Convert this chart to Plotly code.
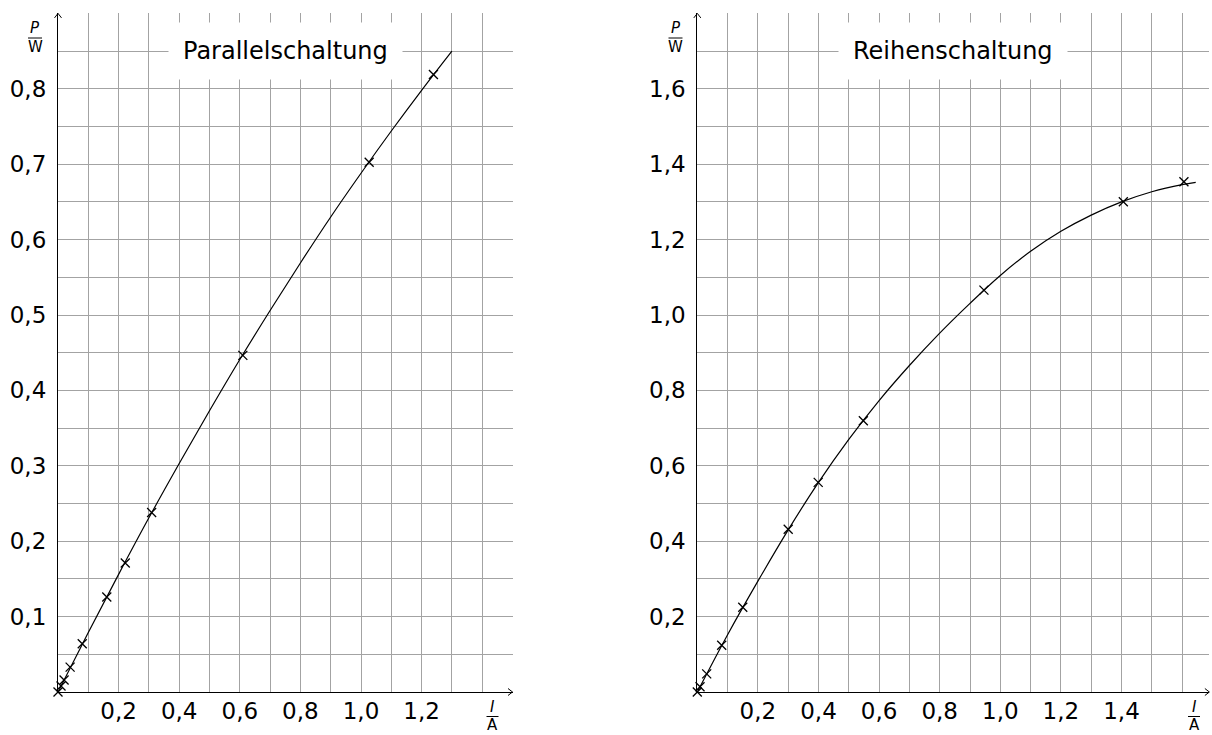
import plotly.graph_objects as go

# ---------------- data ----------------
# Parallelschaltung: measured points (I in A, P in W)
par_I = [0, 0.010, 0.020, 0.040, 0.080, 0.161, 0.222, 0.309, 0.610, 1.027, 1.239]
par_P = [0, 0.008, 0.016, 0.033, 0.064, 0.126, 0.171, 0.238, 0.4465, 0.7025, 0.819]
# fitted curve
par_fit_I = [0, 0.1, 0.2, 0.3, 0.4, 0.5, 0.6, 0.7, 0.8, 0.9, 1.0, 1.1, 1.2, 1.3]
par_fit_P = [0, 0.079, 0.156, 0.231, 0.303, 0.373, 0.441, 0.506, 0.569, 0.630, 0.688, 0.744, 0.798, 0.850]

# Reihenschaltung
rei_I = [0, 0.009, 0.031, 0.0805, 0.150, 0.300, 0.399, 0.548, 0.946, 1.406, 1.606]
rei_P = [0, 0.014, 0.048, 0.124, 0.2246, 0.4316, 0.556, 0.7196, 1.066, 1.3005, 1.3536]
rei_fit_I = [0, 0.1, 0.2, 0.3, 0.4, 0.5, 0.6, 0.7, 0.8, 0.9, 1.0, 1.1, 1.2, 1.3, 1.4, 1.5, 1.6, 1.645]
rei_fit_P = [0, 0.152, 0.294, 0.430, 0.556, 0.670, 0.773, 0.866, 0.952, 1.031, 1.105, 1.169, 1.222, 1.265, 1.300, 1.327, 1.346, 1.352]

# grid lines and tick labels
par_x_grid = [0.1, 0.2, 0.3, 0.4, 0.5, 0.6, 0.7, 0.8, 0.9, 1.0, 1.1, 1.2, 1.3, 1.4]
par_x_labels = {0.2: "0,2", 0.4: "0,4", 0.6: "0,6", 0.8: "0,8", 1.0: "1,0", 1.2: "1,2"}
par_y_grid = [0.05, 0.1, 0.15, 0.2, 0.25, 0.3, 0.35, 0.4, 0.45, 0.5, 0.55, 0.6, 0.65, 0.7, 0.75, 0.8, 0.85]
par_y_labels = {0.1: "0,1", 0.2: "0,2", 0.3: "0,3", 0.4: "0,4", 0.5: "0,5", 0.6: "0,6", 0.7: "0,7", 0.8: "0,8"}

rei_x_grid = [0.1, 0.2, 0.3, 0.4, 0.5, 0.6, 0.7, 0.8, 0.9, 1.0, 1.1, 1.2, 1.3, 1.4, 1.5, 1.6]
rei_x_labels = {0.2: "0,2", 0.4: "0,4", 0.6: "0,6", 0.8: "0,8", 1.0: "1,0", 1.2: "1,2", 1.4: "1,4"}
rei_y_grid = [0.1, 0.2, 0.3, 0.4, 0.5, 0.6, 0.7, 0.8, 0.9, 1.0, 1.1, 1.2, 1.3, 1.4, 1.5, 1.6, 1.7]
rei_y_labels = {0.2: "0,2", 0.4: "0,4", 0.6: "0,6", 0.8: "0,8", 1.0: "1,0", 1.2: "1,2", 1.4: "1,4", 1.6: "1,6"}

titles = ["Parallelschaltung", "Reihenschaltung"]

# ---------------- layout helpers ----------------
W, H = 1212, 735
FONT = "DejaVu Sans"
GRID = "#a3a3a3"


def px(x):
    return x / W


def py(y):
    return (H - y) / H


def ticktext(grid, labels):
    return [labels.get(round(v, 2), "") for v in grid]


fig = go.Figure()

# curves and markers
for xs, ys, xa, ya in [(par_fit_I, par_fit_P, "x", "y"), (rei_fit_I, rei_fit_P, "x2", "y2")]:
    fig.add_trace(go.Scatter(x=xs, y=ys, mode="lines", line=dict(color="black", width=1.2, shape="spline", smoothing=1.0),
                             xaxis=xa, yaxis=ya, hoverinfo="skip", showlegend=False))
for xs, ys, xa, ya in [(par_I, par_P, "x", "y"), (rei_I, rei_P, "x2", "y2")]:
    fig.add_trace(go.Scatter(x=xs, y=ys, mode="markers",
                             marker=dict(symbol="x-thin", size=9, color="black", line=dict(width=1.3, color="black")),
                             xaxis=xa, yaxis=ya, showlegend=False, cliponaxis=False))

common_axis = dict(showline=True, linecolor="black", linewidth=1.2, zeroline=False, ticks="",
                   showgrid=True, gridcolor=GRID, gridwidth=1.2, tickfont=dict(family=FONT, size=23, color="black"),
                   fixedrange=True, layer="below traces")

# pixel geometry of the two panels
L_x0, R_x0 = 58.0, 697.3
ppu_x = 303.0            # pixels per ampere
y0 = 692.0
L_xmax, R_xmax = 1.5, 1.69
L_ymax, R_ymax = 0.9, 1.8
L_ppu_y = 754.0
R_ppu_y = 377.0

ydom = [py(y0), py(y0 - L_ymax * L_ppu_y)]

fig.update_layout(
    width=W, height=H, margin=dict(l=0, r=0, t=0, b=0),
    paper_bgcolor="white", plot_bgcolor="white",
    font=dict(family=FONT, color="black"),
    xaxis=dict(common_axis, domain=[px(L_x0), px(L_x0 + L_xmax * ppu_x)], range=[0, L_xmax], anchor="y",
               tickmode="array", tickvals=par_x_grid, ticktext=ticktext(par_x_grid, par_x_labels), ticklabelstandoff=-2),
    yaxis=dict(common_axis, domain=ydom, range=[0, L_ymax], anchor="x",
               tickmode="array", tickvals=par_y_grid, ticktext=ticktext(par_y_grid, par_y_labels), ticklabelstandoff=6),
    xaxis2=dict(common_axis, domain=[px(R_x0), px(R_x0 + R_xmax * ppu_x)], range=[0, R_xmax], anchor="y2",
                tickmode="array", tickvals=rei_x_grid, ticktext=ticktext(rei_x_grid, rei_x_labels), ticklabelstandoff=-2),
    yaxis2=dict(common_axis, domain=ydom, range=[0, R_ymax], anchor="x2",
                tickmode="array", tickvals=rei_y_grid, ticktext=ticktext(rei_y_grid, rei_y_labels), ticklabelstandoff=6),
)

# titles with white boxes over the grid
for title, xa, ya, xc, yc in [(titles[0], "x", "y", L_xmax / 2, par_y_grid[-1]),
                              (titles[1], "x2", "y2", R_xmax / 2, rei_y_grid[-1])]:
    fig.add_annotation(text=title, xref=xa, yref=ya, x=xc, y=yc, showarrow=False,
                       xanchor="center", yanchor="middle",
                       font=dict(family=FONT, size=24, color="black"), bgcolor="white", borderpad=14)

# axis unit fractions
shapes = []


def label(text, x_p, y_p):
    fig.add_annotation(text=text, xref="paper", yref="paper", x=px(x_p), y=py(y_p), showarrow=False,
                       xanchor="center", yanchor="middle", font=dict(family=FONT, size=15, color="black"))


for x_p in [35.0, 675.5]:
    label("<i>P</i>", x_p, 28)
    label("W", x_p, 47)
    shapes.append(dict(type="line", xref="paper", yref="paper", x0=px(x_p - 7), x1=px(x_p + 7),
                       y0=py(38), y1=py(38), line=dict(color="black", width=1)))
for x_p in [492.5, 1194.0]:
    label("<i>I</i>", x_p, 707)
    label("A", x_p, 725)
    shapes.append(dict(type="line", xref="paper", yref="paper", x0=px(x_p - 6), x1=px(x_p + 6),
                       y0=py(716.5), y1=py(716.5), line=dict(color="black", width=1)))

# open arrow heads at axis ends
top_y = y0 - L_ymax * L_ppu_y
for x_axis0, xmax in [(L_x0, L_xmax), (R_x0, R_xmax)]:
    tx = x_axis0
    for dx in (-3.5, 3.5):
        shapes.append(dict(type="line", xref="paper", yref="paper", x0=px(tx + dx), y0=py(top_y + 4.5),
                           x1=px(tx), y1=py(top_y), line=dict(color="black", width=1)))
    ex = x_axis0 + xmax * ppu_x
    for dy in (-3.5, 3.5):
        shapes.append(dict(type="line", xref="paper", yref="paper", x0=px(ex - 4.5), y0=py(y0 + dy),
                           x1=px(ex), y1=py(y0), line=dict(color="black", width=1)))
fig.update_layout(shapes=shapes)

fig.write_html("out.html", config={"displayModeBar": False},
               post_script="document.body.style.margin='0';document.body.style.overflow='hidden';")
